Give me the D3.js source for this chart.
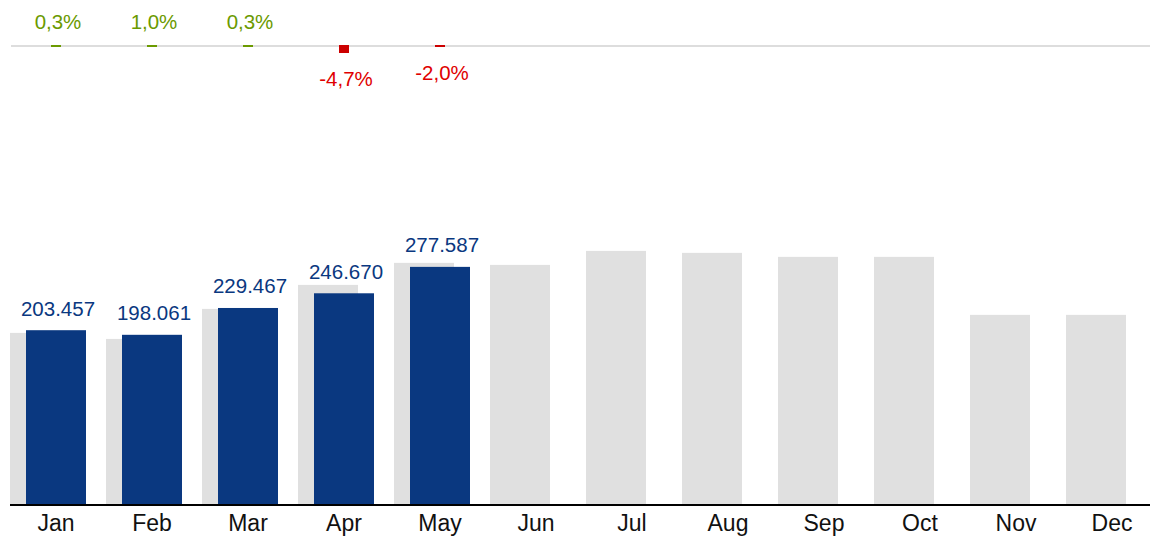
<!DOCTYPE html>
<html>
<head>
<meta charset="utf-8">
<script src="https://cdn.jsdelivr.net/npm/d3@7"></script>
<style>
    body { margin: 0; background: #fff; }
    #chart { width: 1150px; height: 537px; }
    text { font-family: "Liberation Sans", Arial, sans-serif; }
</style>
</head>
<body>
<div id="chart"></div>
<script>
// data
let months = ["Jan", "Feb", "Mar", "Apr", "May", "Jun", "Jul", "Aug", "Sep", "Oct", "Nov", "Dec"];
let currentYear = [203457, 198061, 229467, 246670, 277587];
let previousYear = [200300, 193250, 228400, 256500, 282300, 279900, 296300, 294000, 289300, 289300, 221400, 221400];
let changePct = [0.3, 1.0, 0.3, -4.7, -2.0];
let changeLabels = ["0,3%", "1,0%", "0,3%", "-4,7%", "-2,0%"];
let valueLabels = ["203.457", "198.061", "229.467", "246.670", "277.587"];

let navy = "#0a3880", grey = "#e0e0e0", green = "#6b9a00", red = "#cc0000", redText = "#e00000";

/* * * * * * * * * * * * * *
*     class MonthVis       *
* * * * * * * * * * * * * */

MonthVis = function(parentElement) {
    this.parentElement = parentElement;
    this.initVis();
};

MonthVis.prototype.initVis = function() {
    let vis = this;

    vis.width = 1150;
    vis.height = 537;
    vis.baseline = 504;
    vis.pctLine = 46;

    vis.svg = d3.select("#" + vis.parentElement).append("svg")
        .attr("width", vis.width)
        .attr("height", vis.height);

    // scales
    vis.x = d3.scaleBand().domain(months).range([8, 1160]).padding(0);
    vis.y = d3.scaleLinear().domain([0, 590000]).range([vis.baseline, 0]);
    vis.pct = d3.scalePow().exponent(2).domain([0, 4.7]).range([0, 8]);

    this.updateVis();
};

MonthVis.prototype.updateVis = function() {
    let vis = this;
    let cx = d => vis.x(d) + vis.x.bandwidth() / 2;

    // previous year (grey, shifted left)
    vis.svg.append("g").selectAll("rect")
        .data(previousYear)
        .enter().append("rect")
        .attr("x", (d, i) => cx(months[i]) - 46)
        .attr("width", 60)
        .attr("y", d => vis.y(d))
        .attr("height", d => vis.baseline - vis.y(d))
        .attr("fill", grey);

    // current year
    vis.svg.append("g").selectAll("rect")
        .data(currentYear)
        .enter().append("rect")
        .attr("x", (d, i) => cx(months[i]) - 30)
        .attr("width", 60)
        .attr("y", d => vis.y(d))
        .attr("height", d => vis.baseline - vis.y(d))
        .attr("fill", navy);

    vis.svg.append("g").selectAll("text")
        .data(currentYear)
        .enter().append("text")
        .attr("x", (d, i) => cx(months[i]) + 2)
        .attr("y", d => vis.y(d) - 14.5)
        .attr("text-anchor", "middle")
        .attr("font-size", "20.5px")
        .attr("fill", navy)
        .text((d, i) => valueLabels[i]);

    // x axis
    vis.svg.append("line")
        .attr("x1", 10).attr("x2", vis.width)
        .attr("y1", vis.baseline + 1).attr("y2", vis.baseline + 1)
        .attr("stroke", "#000").attr("stroke-width", 2);

    let xAxis = vis.svg.append("g")
        .attr("transform", `translate(0, ${vis.baseline + 2})`)
        .call(d3.axisBottom(vis.x).tickSize(0).tickPadding(0));
    xAxis.select(".domain").remove();
    xAxis.selectAll("text")
        .attr("dy", 0)
        .attr("y", 25)
        .attr("font-size", "23px")
        .attr("font-family", "Liberation Sans, Arial, sans-serif")
        .attr("fill", "#111");

    // change row at the top
    vis.svg.append("line")
        .attr("x1", 11).attr("x2", vis.width)
        .attr("y1", vis.pctLine).attr("y2", vis.pctLine)
        .attr("stroke", "#dddddd").attr("stroke-width", 2);

    let h = d => Math.max(2, vis.pct(Math.abs(d)));

    vis.svg.append("g").selectAll("rect")
        .data(changePct)
        .enter().append("rect")
        .attr("x", (d, i) => cx(months[i]) - 5)
        .attr("width", 10)
        .attr("y", d => d >= 0 ? vis.pctLine + 1 - h(d) : vis.pctLine - 1)
        .attr("height", d => h(d))
        .attr("fill", d => d >= 0 ? green : red);

    vis.svg.append("g").selectAll("text")
        .data(changePct)
        .enter().append("text")
        .attr("x", (d, i) => cx(months[i]) + 2)
        .attr("y", d => d >= 0 ? vis.pctLine - 1 - h(d) - 14 : vis.pctLine - 1 + h(d) + 33)
        .attr("text-anchor", "middle")
        .attr("font-size", "20.5px")
        .attr("fill", d => d >= 0 ? green : redText)
        .text((d, i) => changeLabels[i]);
};

let myMonthVis = new MonthVis("chart");
</script>
</body>
</html>
